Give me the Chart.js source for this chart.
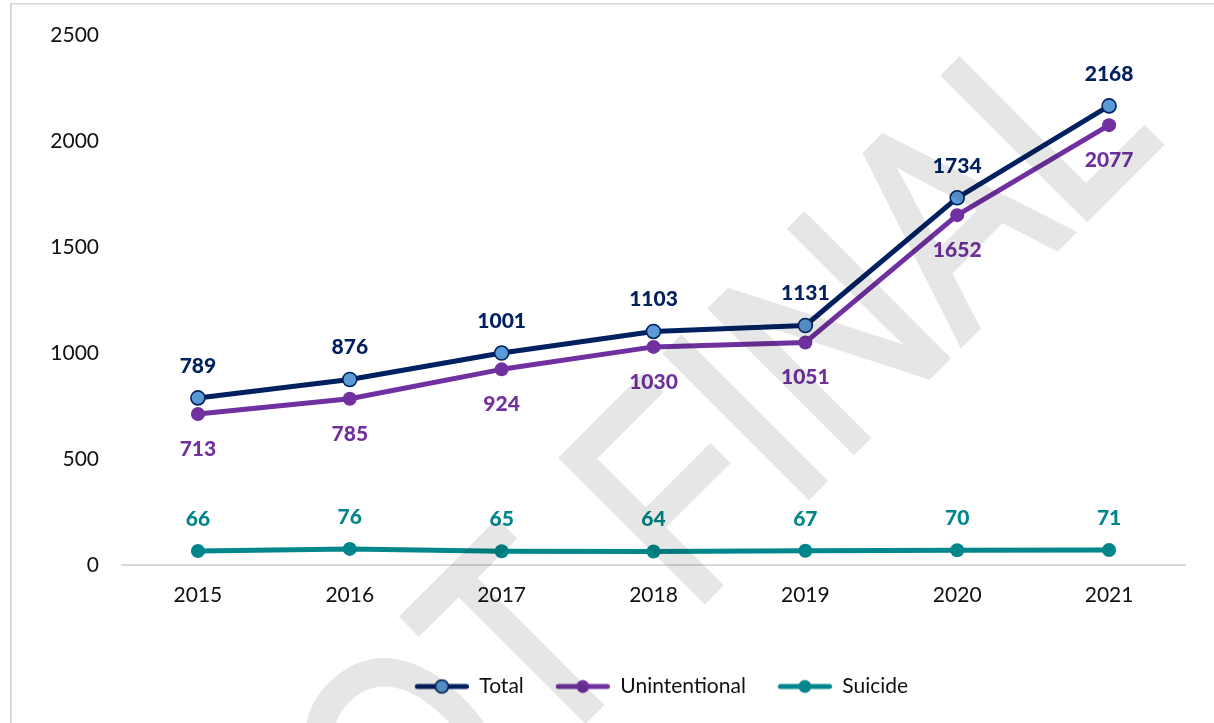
<!DOCTYPE html>
<html>
<head>
<meta charset="utf-8">
<script src="https://cdn.jsdelivr.net/npm/chart.js@4.4.1/dist/chart.umd.min.js"></script>
<style>
  html, body { margin: 0; padding: 0; background: #fff; }
  #wrap { width: 1214px; height: 723px; position: relative; }
</style>
</head>
<body>
<div id="wrap"><canvas id="chart" width="1214" height="723"></canvas></div>
<script>
const years = ["2015", "2016", "2017", "2018", "2019", "2020", "2021"]
const total = [789, 876, 1001, 1103, 1131, 1734, 2168]
const unintentional = [713, 785, 924, 1030, 1051, 1652, 2077]
const suicide = [66, 76, 65, 64, 67, 70, 71]
const yMin = 0, yMax = 2500, yStep = 500

const NAVY = "#002060", PURPLE = "#7030A0", TEAL = "#00868B", LIGHT_BLUE = "#5B9BD5"
const FONT = "Lato, 'Open Sans', sans-serif"

// line-with-marker swatch for the legend
function marker(lineColor, fill, stroke) {
  const c = document.createElement("canvas")
  c.width = 70; c.height = 18
  const ctx = c.getContext("2d")
  ctx.strokeStyle = lineColor; ctx.lineWidth = 5; ctx.lineCap = "round"
  ctx.beginPath(); ctx.moveTo(18.5, 9); ctx.lineTo(67.5, 9); ctx.stroke()
  ctx.beginPath(); ctx.arc(43, 9, 6.5, 0, Math.PI * 2)
  ctx.fillStyle = fill; ctx.fill()
  if (stroke) { ctx.lineWidth = 1.6; ctx.strokeStyle = stroke; ctx.stroke() }
  return c
}

const frame = {
  id: "frame",
  beforeDraw(chart) {
    const ctx = chart.ctx
    ctx.save()
    ctx.fillStyle = "#fff"; ctx.fillRect(0, 0, chart.width, chart.height)
    ctx.fillStyle = "#d9d9d9"
    ctx.fillRect(10, 3, 2, chart.height)
    ctx.fillRect(10, 3, chart.width, 1.5)
    ctx.restore()
  }
}

const valueLabels = {
  id: "valueLabels",
  afterDatasetsDraw(chart) {
    const ctx = chart.ctx
    ctx.save()
    ctx.font = "900 21px " + FONT
    ctx.textAlign = "center"; ctx.textBaseline = "middle"
    chart.data.datasets.forEach((ds, i) => {
      chart.getDatasetMeta(i).data.forEach((pt, j) => {
        ctx.fillStyle = ds.labelColor
        ctx.fillText(String(ds.data[j]), pt.x, pt.y + ds.labelOffset)
      })
    })
    ctx.restore()
  }
}

// "NOT FINAL" stamp, multiplied over the finished chart
const watermark = {
  id: "watermark",
  afterDraw(chart) {
    const off = document.createElement("canvas")
    off.width = chart.width; off.height = chart.height
    const o = off.getContext("2d")
    o.translate(728, 577)
    o.rotate(-Math.PI / 4)
    o.scale(0.81, 1)
    o.font = "293px 'Liberation Sans', sans-serif"
    o.textAlign = "center"; o.textBaseline = "alphabetic"
    o.fillStyle = o.strokeStyle = "#e6e6e6"
    o.lineWidth = 6; o.lineJoin = "miter"
    o.fillText("NOT FINAL", 0, 0)
    o.strokeText("NOT FINAL", 0, 0)
    const ctx = chart.ctx
    ctx.save()
    ctx.setTransform(1, 0, 0, 1, 0, 0)
    ctx.globalCompositeOperation = "multiply"
    ctx.drawImage(off, 0, 0)
    ctx.restore()
  }
}

const lineStyle = { borderWidth: 5, tension: 0, pointRadius: 7, pointHoverRadius: 7, borderJoinStyle: "round", borderCapStyle: "round" }

new Chart(document.getElementById("chart"), {
  type: "line",
  data: {
    labels: years,
    datasets: [
      { ...lineStyle, label: "Total", data: total, borderColor: NAVY, pointBackgroundColor: LIGHT_BLUE, pointBorderColor: NAVY, pointBorderWidth: 1.6,
        labelColor: NAVY, labelOffset: -32, swatch: marker(NAVY, LIGHT_BLUE, NAVY) },
      { ...lineStyle, label: "Unintentional", data: unintentional, borderColor: PURPLE, pointBackgroundColor: PURPLE, pointBorderColor: PURPLE, pointBorderWidth: 0,
        labelColor: PURPLE, labelOffset: 35, swatch: marker(PURPLE, PURPLE) },
      { ...lineStyle, label: "Suicide", data: suicide, borderColor: TEAL, pointBackgroundColor: TEAL, pointBorderColor: TEAL, pointBorderWidth: 0,
        labelColor: TEAL, labelOffset: -32, swatch: marker(TEAL, TEAL) }
    ]
  },
  options: {
    responsive: false, animation: false,
    layout: { padding: { left: 0, right: 29, top: 33, bottom: 16 } },
    plugins: {
      tooltip: { enabled: false },
      legend: {
        position: "bottom", fullSize: false,
        labels: {
          usePointStyle: true, pointStyleWidth: 70, padding: 16, color: "#111",
          font: { family: FONT, size: 21 },
          generateLabels: chart => chart.data.datasets.map((ds, i) => ({
            text: ds.label, pointStyle: ds.swatch, datasetIndex: i, hidden: false,
            fillStyle: ds.borderColor, strokeStyle: ds.borderColor, fontColor: "#111", lineWidth: 0
          }))
        }
      }
    },
    scales: {
      x: {
        offset: true,
        grid: { display: false, drawTicks: false, tickLength: 0, offset: true },
        border: { display: true, color: "#d9d9d9", width: 2 },
        ticks: { color: "#111", padding: 18, font: { family: FONT, size: 21 } },
        afterFit: s => { s.height = 95 }
      },
      y: {
        min: yMin, max: yMax,
        grid: { display: false, drawTicks: false, tickLength: 0 },
        border: { display: false },
        ticks: { stepSize: yStep, color: "#111", padding: 23, font: { family: FONT, size: 21 }, callback: v => String(v) },
        afterFit: s => { s.width = 122 }
      }
    }
  },
  plugins: [frame, valueLabels, watermark]
})
</script>
</body>
</html>
